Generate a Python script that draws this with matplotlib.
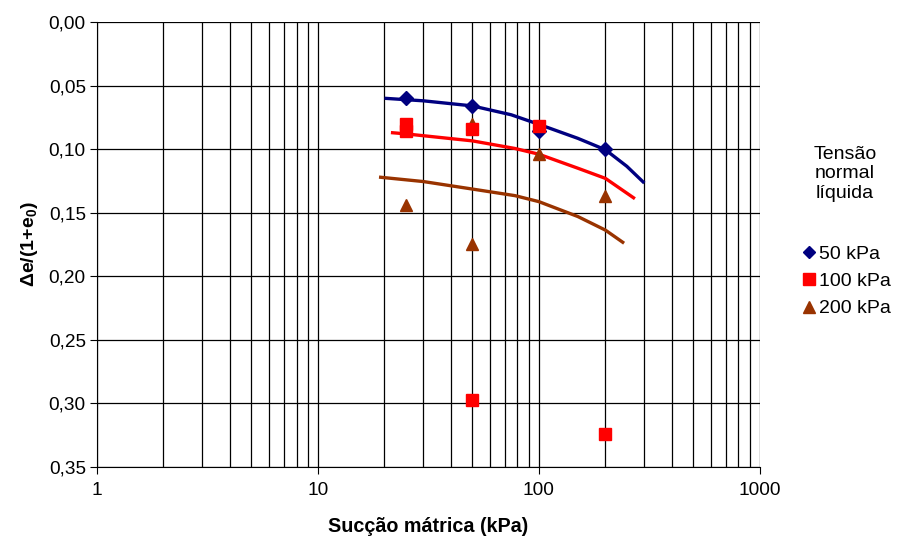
import matplotlib
matplotlib.use("Agg")
import matplotlib.pyplot as plt
from matplotlib.lines import Line2D
import numpy as np

plt.rcParams['font.family'] = ['Liberation Sans', 'DejaVu Sans']
plt.rcParams['mathtext.fontset'] = 'custom'
plt.rcParams['mathtext.rm'] = 'Liberation Sans'
plt.rcParams['mathtext.bf'] = 'Liberation Sans:bold'

# measured points
s50_x = [25, 50, 100, 200]
s50_y = [0.060, 0.066, 0.086, 0.100]
s100_x = [25, 25, 50, 50, 100, 200]
s100_y = [0.080, 0.086, 0.084, 0.297, 0.082, 0.324]
s200_x = [25, 50, 50, 100, 200]
s200_y = [0.144, 0.080, 0.175, 0.104, 0.137]

# fitted curves
c50_x = [20, 30, 50, 75, 100, 150, 200, 250, 300]
c50_y = [0.060, 0.062, 0.066, 0.073, 0.0805, 0.0915, 0.1005, 0.1135, 0.1267]
c100_x = [21.4, 25, 50, 78, 100, 150, 200, 272]
c100_y = [0.087, 0.088, 0.0935, 0.0995, 0.104, 0.115, 0.123, 0.139]
c200_x = [18.9, 30, 50, 78, 100, 150, 200, 243]
c200_y = [0.122, 0.1255, 0.1314, 0.1366, 0.1413, 0.153, 0.1637, 0.174]

legend_labels = ["50 kPa", "100 kPa", "200 kPa"]
colors = ["#000080", "#FF0000", "#993300"]

fig = plt.figure(figsize=(8.97, 5.43), dpi=100)
ax = fig.add_axes([0.1081, 0.14, 0.7390, 0.8195])

for cx, cy, c in [(c50_x, c50_y, colors[0]), (c100_x, c100_y, colors[1]), (c200_x, c200_y, colors[2])]:
    ax.plot(cx, cy, color=c, lw=2.4, zorder=3, solid_capstyle='butt', solid_joinstyle='round')

ax.plot(s200_x, s200_y, ls='none', marker='^', color=colors[2], ms=9, zorder=4)
ax.plot(s100_x, s100_y, ls='none', marker='s', color=colors[1], ms=8.5, zorder=5)
ax.plot(s50_x, s50_y, ls='none', marker='D', color=colors[0], ms=7.5, zorder=4)

ax.set_xscale('log')
ax.set_xlim(1, 1000)
ax.set_ylim(0.35, 0.0)
yt = np.arange(0, 0.351, 0.05)
ax.set_yticks(yt)
ax.set_yticklabels([f"{v:.2f}".replace('.', ',') for v in yt])
ax.set_xticks([1, 10, 100, 1000])
ax.set_xticklabels(['1', '10', '100', '1000'])
ax.grid(True, which='both', axis='x', color='black', lw=0.9)
ax.grid(True, which='major', axis='y', color='black', lw=0.9)
ax.tick_params(axis='x', which='major', length=5, labelsize=13.7, pad=6, direction='out')
ax.tick_params(axis='x', which='minor', length=0)
ax.tick_params(axis='y', length=5, labelsize=13.7, direction='out', pad=3)
for s in ['top', 'right']:
    ax.spines[s].set_visible(False)
for s in ['left', 'bottom']:
    ax.spines[s].set_color('black')
ax.set_axisbelow(True)

ax.set_xlabel('Sucção mátrica (kPa)', fontsize=14.2, fontweight='bold', labelpad=13)
ax.set_ylabel(r'Δe/(1+e$_\mathbf{0}$)', fontsize=14, fontweight='bold', labelpad=6)

fig.text(0.942, 0.68, 'Tensão\nnormal\nlíquida', ha='center', va='center', fontsize=14, linespacing=1.2)
handles = [Line2D([], [], ls='none', marker='D', color=colors[0], ms=6.5),
           Line2D([], [], ls='none', marker='s', color=colors[1], ms=8),
           Line2D([], [], ls='none', marker='^', color=colors[2], ms=8.5)]
fig.legend(handles, legend_labels, loc='center left', bbox_to_anchor=(0.884, 0.482),
           frameon=False, fontsize=14, handletextpad=0.15, handlelength=0.8,
           borderaxespad=0, labelspacing=0.5)

fig.savefig('out.png', dpi=100)
